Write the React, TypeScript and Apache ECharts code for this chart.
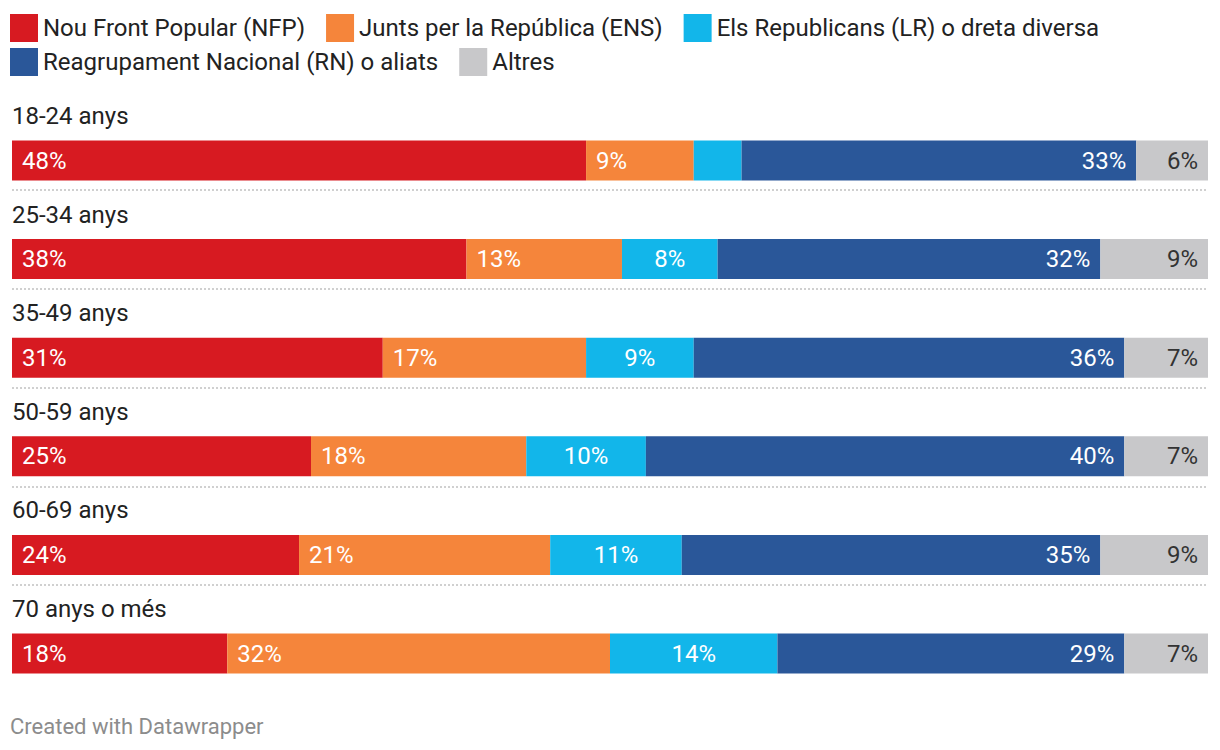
import { useEffect, useRef } from "react";
import * as echarts from "echarts";

const categories = ["18-24 anys", "25-34 anys", "35-49 anys", "50-59 anys", "60-69 anys", "70 anys o més"];
const seriesNames = [
  "Nou Front Popular (NFP)",
  "Junts per la República (ENS)",
  "Els Republicans (LR) o dreta diversa",
  "Reagrupament Nacional (RN) o aliats",
  "Altres",
];
const nfp = [48, 38, 31, 25, 24, 18];
const ens = [9, 13, 17, 18, 21, 32];
const lr = [4, 8, 9, 10, 11, 14];
const rn = [33, 32, 36, 40, 35, 29];
const altres = [6, 9, 7, 7, 9, 7];
const seriesValues = [nfp, ens, lr, rn, altres];
const colors = ["#d71a21", "#f5853b", "#12b6ea", "#2a5799", "#c8c8ca"];
const labelPositions = ["insideLeft", "insideLeft", "inside", "insideRight", "insideRight"];
const labelColors = ["#ffffff", "#ffffff", "#ffffff", "#ffffff", "#333333"];

const FONT = "Roboto";

export default function App() {
  const ref = useRef<HTMLDivElement>(null);
  useEffect(() => {
    if (!ref.current) return;
    const chart = echarts.init(ref.current, undefined, { renderer: "svg" });
    const barSeries = seriesNames.map((name, i) => ({
      name,
      type: "bar",
      stack: "total",
      xAxisIndex: 0,
      yAxisIndex: 0,
      barWidth: 40,
      data: seriesValues[i],
      itemStyle: { color: colors[i] },
      label: {
        show: true,
        position: labelPositions[i],
        distance: 10,
        color: labelColors[i],
        fontSize: 24,
        fontFamily: FONT,
        formatter: (p: any) => (p.value >= 5 ? `${p.value}%` : ""),
      },
      emphasis: { disabled: true },
    }));
    const legendBase = {
      left: 10,
      padding: 0,
      itemWidth: 28,
      itemHeight: 28,
      itemGap: 21,
      icon: "rect",
      selectedMode: false,
      textStyle: { fontSize: 24, color: "#222222", fontFamily: FONT },
    };
    chart.setOption({
      animation: false,
      textStyle: { fontFamily: FONT },
      title: {
        text: "Created with Datawrapper",
        left: 10,
        top: 715,
        padding: 0,
        textStyle: { fontSize: 22, fontWeight: "normal", color: "#8c8c8c", fontFamily: FONT },
      },
      legend: [
        { ...legendBase, top: 14, data: seriesNames.slice(0, 3) },
        { ...legendBase, top: 48, data: seriesNames.slice(3) },
      ],
      grid: [
        { left: 12, right: 12, top: 111.2, height: 591.6 },
        { left: 12, right: 12, top: 190, height: 395 },
        { left: 12, right: 12, top: 66.7, height: 591.6 },
      ],
      xAxis: [
        { type: "value", gridIndex: 0, min: 0, max: 100, show: false },
        { type: "value", gridIndex: 1, min: 0, max: 1, show: false },
        { type: "value", gridIndex: 2, min: 0, max: 1, show: false },
      ],
      yAxis: [
        {
          type: "category",
          gridIndex: 0,
          inverse: true,
          data: categories,
          axisLine: { show: false },
          axisTick: { show: false },
          splitLine: { show: false },
          axisLabel: { show: false },
        },
        {
          type: "value",
          gridIndex: 1,
          min: 0,
          max: 4,
          interval: 1,
          axisLine: { show: false },
          axisTick: { show: false },
          axisLabel: { show: false },
          splitLine: { show: true, lineStyle: { color: "#d0d0d0", width: 2, type: [2, 2] } },
        },
        {
          type: "category",
          gridIndex: 2,
          inverse: true,
          data: categories,
          axisLine: { show: false },
          axisTick: { show: false },
          splitLine: { show: false },
          axisLabel: {
            inside: true,
            interval: 0,
            margin: 0,
            align: "left",
            verticalAlign: "middle",
            fontSize: 24,
            color: "#222222",
            fontFamily: FONT,
          },
        },
      ],
      series: [
        ...barSeries,
        { type: "line", xAxisIndex: 1, yAxisIndex: 1, data: [], silent: true },
        { type: "line", xAxisIndex: 2, yAxisIndex: 2, data: [], silent: true },
      ],
    });
    return () => chart.dispose();
  }, []);
  return (
    <div
      ref={ref}
      style={{ position: "fixed", left: 0, top: 0, width: 1220, height: 750, background: "#ffffff" }}
    />
  );
}
